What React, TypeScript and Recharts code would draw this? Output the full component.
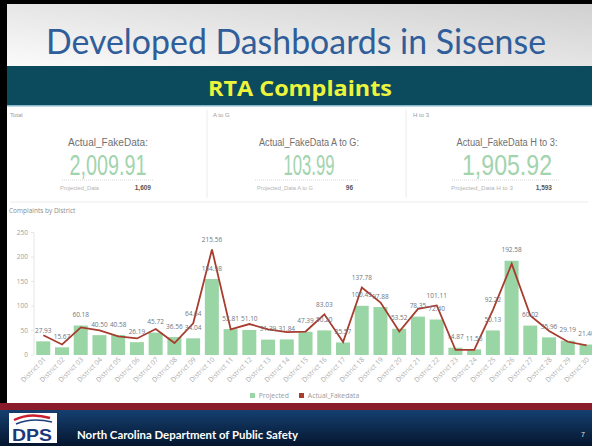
import React from 'react';
import { ComposedChart, Bar, Line, XAxis, YAxis, Legend, LabelList } from 'recharts';

const districts = [
  'District 01', 'District 02', 'District 03', 'District 04', 'District 05',
  'District 06', 'District 07', 'District 08', 'District 09', 'District 10',
  'District 11', 'District 12', 'District 13', 'District 14', 'District 15',
  'District 16', 'District 17', 'District 18', 'District 19', 'District 20',
  'District 21', 'District 22', 'District 23', 'District 24', 'District 25',
  'District 26', 'District 27', 'District 28', 'District 29', 'District 30',
];

// Projected (bars)
const projected = [
  27.93, 15.67, 60.18, 40.5, 40.58, 26.19, 45.72, 36.56, 34.04, 154.98,
  52.81, 51.1, 31.39, 31.84, 47.39, 50.2, 25.57, 100.45, 97.88, 53.52,
  78.35, 72.4, 14.87, 11.56, 50.13, 192.58, 60.02, 35.96, 29.19, 21.4,
];

// Actual_Fakedata (line)
const actual = [
  40.2, 21.5, 56.4, 50.3, 38.1, 33.8, 53.1, 24.3, 64.64, 215.56,
  52.2, 63.2, 52.4, 46.5, 47.9, 83.03, 26.4, 137.78, 107.0, 48.0,
  94.2, 101.11, 10.3, 10.5, 92.22, 186.0, 80.0, 49.0, 27.0, 19.5,
];

const seriesOrder = ['Projected', 'Actual_Fakedata'];
const yTicks = [0, 50, 100, 150, 200, 250];

const kpiTitles = ['Total', 'A to G', 'H to 3'];
const kpiLabels = ['Actual_FakeData:', 'Actual_FakeData A to G:', 'Actual_FakeData H to 3:'];
const kpiValues = ['2,009.91', '103.99', '1,905.92'];
const kpiProjLabels = ['Projected_Data', 'Projected_Data A to G', 'Projected_Data H to 3'];
const kpiProjValues = ['1,609', '96', '1,593'];

// layout of the three KPI panels (x positions / text widths)
const kpiLayout = [
  { title: 10, center: 108, labelW: 80, numW: 77, projX: 60, projW: 39, valEnd: 151, lineFrom: 62, lineTo: 154 },
  { title: 213, center: 309, labelW: 100, numW: 51, projX: 257, projW: 56, valEnd: 353, lineFrom: 255, lineTo: 358 },
  { title: 413, center: 507, labelW: 101, numW: 90, projX: 451, projW: 62, valEnd: 552, lineFrom: 452, lineTo: 560 },
];

const rows = districts.map((name, i) => ({
  name,
  Projected: projected[i],
  Actual_Fakedata: actual[i],
  // line label is hidden when it would sit on top of the bar label
  actualLabel: Math.abs(actual[i] - projected[i]) >= 22 ? actual[i].toFixed(2) : '',
}));

const chartFont = '"Open Sans", "Liberation Sans", sans-serif';

function makeLabel(lift: number, fmt: (v: any) => string) {
  return (props: any) => {
    const vb = props.viewBox ?? {};
    const bx = props.x ?? vb.x ?? 0;
    const bw = props.width ?? vb.width ?? 0;
    const by = props.y ?? vb.y ?? 0;
    const t = fmt(props.value);
    if (!t) return <g />;
    return (
      <text x={bx + bw / 2} y={by - lift} textAnchor="middle" fontSize={6.5}
        fontFamily={chartFont} fill="#6f7680">{t}</text>
    );
  };
}

const barLabel = makeLabel(8.5, (v) => (v == null ? '' : Number(v).toFixed(2)));
const lineLabel = makeLabel(7.5, (v) => (v ? String(v) : ''));

function XTick(props: any) {
  const { x, y, payload } = props;
  const px = x + 3;
  const py = y + 5;
  return (
    <text x={px} y={py} transform={`rotate(-45 ${px} ${py})`} textAnchor="end"
      fontSize={6.8} fontFamily={chartFont} fill="#ababab">{payload.value}</text>
  );
}

function LegendBox(props: any) {
  const items = [...(props.payload ?? [])].sort(
    (a: any, b: any) => seriesOrder.indexOf(a.value) - seriesOrder.indexOf(b.value),
  );
  return (
    <div style={{ height: 21, display: 'flex', alignItems: 'center', justifyContent: 'center',
      paddingLeft: 9, paddingBottom: 5, boxSizing: 'border-box', gap: 10,
      fontFamily: chartFont, fontSize: 6.8, color: '#9a9a9a' }}>
      {items.map((it: any) => (
        <span key={it.value} style={{ display: 'flex', alignItems: 'center', gap: 4 }}>
          <span style={{ width: 5, height: 5, background: it.color, display: 'inline-block' }} />
          {it.value}
        </span>
      ))}
    </div>
  );
}

function Slide() {
  return (
    <svg width={592} height={446} style={{ position: 'absolute', left: 0, top: 0 }}>
      <defs>
        <linearGradient id="hdr" x1="0" y1="1" x2="1" y2="0">
          <stop offset="0" stopColor="#fbfbfb" />
          <stop offset="1" stopColor="#cfcfcf" />
        </linearGradient>
        <linearGradient id="ftr" x1="0" y1="0" x2="0" y2="1">
          <stop offset="0" stopColor="#153f70" />
          <stop offset="1" stopColor="#05162e" />
        </linearGradient>
      </defs>
      <rect width={592} height={446} fill="#ffffff" />
      <rect x={0} y={0} width={592} height={66} fill="url(#hdr)" />
      <rect x={0} y={0} width={592} height={4} fill="#000" />
      <rect x={0} y={0} width={7} height={405} fill="#000" />
      <text x={46} y={54} fontFamily="Lato, 'Open Sans', sans-serif" fontSize={34}
        textLength={500} lengthAdjust="spacingAndGlyphs" fill="#2f5e9a">Developed Dashboards in Sisense</text>

      <rect x={7} y={66} width={585} height={40} fill="#0c4a5d" />
      <rect x={7} y={105} width={585} height={1.5} fill="#86b8c9" />
      <text x={300} y={96} textAnchor="middle" fontFamily="'Open Sans', sans-serif" fontWeight={700}
        fontSize={21} textLength={184} lengthAdjust="spacingAndGlyphs" fill="#ecf53c">RTA Complaints</text>

      {kpiLayout.map((k, i) => (
        <g key={kpiTitles[i]} fontFamily="'Liberation Sans', Arial, sans-serif">
          <text x={k.title} y={117} fontSize={6} fill="#9a9a9a">{kpiTitles[i]}</text>
          <text x={k.center} y={146} textAnchor="middle" fontSize={10} fill="#707070"
            textLength={k.labelW} lengthAdjust="spacingAndGlyphs">{kpiLabels[i]}</text>
          <text x={k.center} y={175} textAnchor="middle" fontSize={29} fill="#a2d4ae"
            textLength={k.numW} lengthAdjust="spacingAndGlyphs">{kpiValues[i]}</text>
          <line x1={k.lineFrom} x2={k.lineTo} y1={180} y2={180} stroke="#d6d6d6" strokeDasharray="1 1" />
          <text x={k.projX} y={190} fontSize={6} fill="#b4b4b4" textLength={k.projW}
            lengthAdjust="spacingAndGlyphs">{kpiProjLabels[i]}</text>
          <text x={k.valEnd} y={190} textAnchor="end" fontSize={6.5} fontWeight={700} fill="#555">{kpiProjValues[i]}</text>
        </g>
      ))}
      <line x1={207} x2={207} y1={110} y2={198} stroke="#ececec" />
      <line x1={406} x2={406} y1={110} y2={198} stroke="#ececec" />
      <line x1={10} x2={588} y1={202} y2={202} stroke="#ececec" />
      <text x={9} y={213} fontSize={6.5} fontFamily={chartFont} fill="#8c8c8c">Complaints by District</text>

      <rect x={0} y={403} width={592} height={7} fill="#8a1b2b" />
      <rect x={0} y={410} width={592} height={36} fill="url(#ftr)" />
      <rect x={9} y={413} width={48} height={30} fill="#ffffff" />
      <path d="M14 420 Q30 412 50 418" stroke="#c8202f" strokeWidth={2.5} fill="none" />
      <path d="M16 424 Q32 417 52 422" stroke="#1d3e7a" strokeWidth={1.5} fill="none" />
      <text x={12} y={441} fontFamily="'Liberation Sans', Arial, sans-serif" fontWeight={700} fontSize={17}
        textLength={40} lengthAdjust="spacingAndGlyphs" fill="#1b3a78">DPS</text>
      <text x={77} y={439} fontFamily="Lato, 'Open Sans', sans-serif" fontWeight={700} fontSize={11.5}
        textLength={221} lengthAdjust="spacingAndGlyphs" fill="#ffffff">North Carolina Department of Public Safety</text>
      <text x={581} y={437} fontFamily="'Liberation Sans', Arial, sans-serif" fontSize={7} fill="#e8e8e8">7</text>
    </svg>
  );
}

export default function App() {
  return (
    <div style={{ position: 'absolute', left: 0, top: 0, width: 592, height: 446, overflow: 'hidden', background: '#fff' }}>
      <Slide />
      <div style={{ position: 'absolute', left: 0, top: 218 }}>
        <ComposedChart width={600} height={190} data={rows}
          margin={{ top: 14.5, right: 4, left: 4, bottom: 0 }} barCategoryGap="12%">
          <XAxis dataKey="name" interval={0} height={32} tick={<XTick />}
            axisLine={false} tickLine={false} tickSize={0} tickMargin={0} />
          <YAxis domain={[0, 250]} ticks={yTicks} width={30} tickSize={3} tickMargin={3}
            tick={{ fontSize: 6.5, fill: '#a0a0a0', fontFamily: chartFont }}
            axisLine={{ stroke: '#e6e6e6' }} tickLine={{ stroke: '#e6e6e6' }} />
          <Legend verticalAlign="bottom" height={21} content={<LegendBox />}
            wrapperStyle={{ height: 21 }} />
          <Bar dataKey="Projected" fill="#9ad5a5" isAnimationActive={false}>
            <LabelList dataKey="Projected" content={barLabel} />
          </Bar>
          <Line type="linear" dataKey="Actual_Fakedata" stroke="#a63d2e" strokeWidth={1.8}
            dot={false} activeDot={false} isAnimationActive={false}>
            <LabelList dataKey="actualLabel" content={lineLabel} />
          </Line>
        </ComposedChart>
      </div>
    </div>
  );
}
